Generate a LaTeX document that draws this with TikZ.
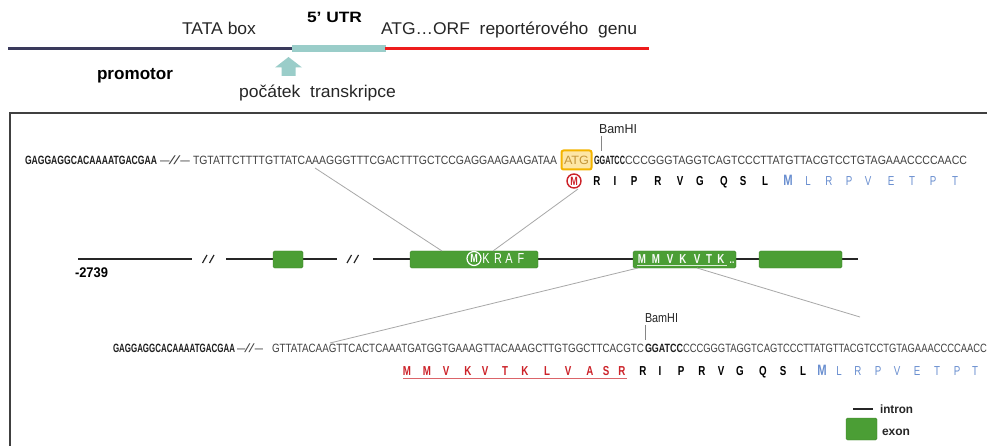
\documentclass[tikz,border=0pt]{standalone}
\usepackage{fontspec}
\setmainfont{Liberation Sans}
\newfontfamily\nar[FakeStretch=0.75]{Liberation Sans}
\usepackage{graphicx}
\definecolor{navy}{HTML}{3A3A5C}
\definecolor{teal}{HTML}{9ACDC9}
\definecolor{redl}{HTML}{EE1C1C}
\definecolor{seqc}{HTML}{404040}
\definecolor{seqd}{HTML}{1E1E1E}
\definecolor{exong}{HTML}{4B9E35}
\definecolor{conng}{HTML}{A8A8A8}
\definecolor{aablue}{HTML}{6A8FD0}
\definecolor{aared}{HTML}{CC2229}
\definecolor{boxor}{HTML}{F4B400}
\definecolor{boxfill}{HTML}{FDE6A6}
\definecolor{atgc}{HTML}{C4963A}
\definecolor{framec}{HTML}{404040}
\newcommand{\fitw}[2]{\resizebox{#1pt}{\height}{#2}}
\tikzset{
  txt/.style={inner sep=0pt, outer sep=0pt, anchor=base west},
  seqtxt/.style={txt, text=seqc, font=\fontsize{12}{12}\selectfont},
  seqdark/.style={txt, text=seqd, font=\fontsize{12}{12}\selectfont\bfseries},
  aa/.style={inner sep=0pt, outer sep=0pt, anchor=base, font=\nar\fontsize{13}{13}\selectfont\bfseries},
  exonbox/.style={fill=exong, draw=exong!85!black, line width=0.4pt, rounded corners=1.5pt, minimum height=17pt, inner sep=0pt},
  conn/.style={draw=conng, line width=0.8pt},
  intron/.style={draw=black!85, line width=1.6pt},
  brk/.style={draw=black!85, line width=1.2pt},
}
\begin{document}
\begin{tikzpicture}[x=1pt,y=-1pt]
\useasboundingbox (0,0) rectangle (987,446);
\clip (0,0) rectangle (987,446);
\fill[white] (0,0) rectangle (987,446);

% ---------- top scheme ----------
\draw[navy, line width=3.5pt] (8,48.5) -- (293,48.5);
\fill[teal] (292,45) rectangle (386,52.5);
\draw[redl, line width=3.5pt] (385,48.5) -- (649,48.5);
\fill[teal] (288.5,57) -- (302,67.5) -- (295.5,67.5) -- (295.5,76) -- (281.5,76) -- (281.5,67.5) -- (275,67.5) -- cycle;
\node[txt, font=\fontsize{17}{17}\selectfont, text=black!85] (tata) at (182,35) {\fitw{74}{TATA box}};
\node[txt, font=\fontsize{15}{15}\selectfont\bfseries] (utr) at (307,23) {\fitw{55}{5’ UTR}};
\node[txt, font=\fontsize{17}{17}\selectfont, text=black!85] (orf) at (381,35) {\fitw{256}{ATG…ORF\ \ reportérového\ \ genu}};
\node[txt, font=\fontsize{17}{17}\selectfont\bfseries] (prom) at (97,80) {\fitw{76}{promotor}};
\node[txt, font=\fontsize{17}{17}\selectfont, text=black!85] (start) at (239,98) {\fitw{157}{počátek\ \ transkripce}};

% ---------- frame ----------
\draw[framec, line width=1.3pt] (10,460) -- (10,113) -- (995,113);

% ---------- upper sequence ----------
\node[seqdark] (s1a) at (25,165) {\fitw{132}{GAGGAGGCACAAAATGACGAA}};
\node[seqtxt] (s1b) at (160,165) {\fitw{30}{–\textit{//}–}};
\node[seqtxt] (s1c) at (193,165) {\fitw{364}{TGTATTCTTTTGTTATCAAAGGGTTTCGACTTTGCTCCGAGGAAGAAGATAA}};
\node[draw=boxor, fill=boxfill, line width=2pt, rounded corners=2pt, minimum width=30pt, minimum height=19pt, inner sep=0pt] (atgbox) at (576.5,160) {};
\node[seqtxt, text=atgc] (atg) at (564,165) {\fitw{25}{ATG}};
\node[seqdark] (s1d) at (594,165) {\fitw{31}{GGATCC}};
\node[seqtxt] (s1e) at (625,165) {\fitw{342}{CCCGGGTAGGTCAGTCCCTTATGTTACGTCCTGTAGAAACCCCAACC}};
\node[txt, font=\fontsize{13}{13}\selectfont, text=black!85] (bam1) at (599,134) {\fitw{38}{BamHI}};
\coordinate (t1a) at (601,136.5);
\coordinate (t1b) at (601,151);
\draw[conng!80!black, line width=0.8pt] (t1a) -- (t1b);

% amino acids row 1
\node[circle, draw=aared, line width=1.4pt, minimum size=14pt, inner sep=0pt, text=aared, font=\nar\fontsize{12}{12}\selectfont\bfseries] (m1) at (574,181) {M};
\foreach \x/\l [count=\i] in {597/R,615/I,634/P,658/R,680/V,700/G,724/Q,743/S,765/L}
  \node[aa] (a\i) at (\x,185.5) {\l};
\node[aa, text=aablue, font=\nar\fontsize{15}{15}\selectfont\bfseries] (am) at (788,186) {M};
\foreach \x/\l [count=\i] in {808/L,829/R,849/P,868/V,891/E,912/T,933/P,955/T}
  \node[aa, text=aablue, font=\nar\fontsize{13}{13}\selectfont] (ab\i) at (\x,185.5) {\l};

% ---------- gene ----------
\draw[intron] (78,259) -- (192,259);
\draw[brk] (202.5,263) -- (207,255) (209.5,263) -- (214,255);
\draw[intron] (226,259) -- (337,259);
\draw[brk] (347,263) -- (351.5,255) (354,263) -- (358.5,255);
\draw[intron] (373,259) -- (858,259);
\node[exonbox, minimum width=30pt] (ex1) at (288,259.5) {};
\node[exonbox, minimum width=128pt] (ex2) at (474,259.5) {};
\node[exonbox, minimum width=103pt] (ex3) at (684.5,259.5) {};
\node[exonbox, minimum width=83pt] (ex4) at (800.5,259.5) {};
\node[txt, font=\fontsize{14}{14}\selectfont\bfseries] (num) at (75,277) {\fitw{33}{-2739}};

% exon 2 label
\node[circle, draw=white, line width=1.2pt, minimum size=14pt, inner sep=0pt, text=white, font=\nar\fontsize{12}{12}\selectfont\bfseries] (m2) at (474,258.5) {M};
\foreach \x/\l [count=\i] in {486/K,498/R,509/A,521/F}
  \node[aa, text=white, font=\nar\fontsize{14.5}{14.5}\selectfont] (k\i) at (\x,264) {\l};
% exon 3 label
\foreach \x/\l [count=\i] in {642/M,656/M,670/V,683/K,697/V,709/T,721/K}
  \node[aa, text=white!95!exong, font=\nar\fontsize{13}{13}\selectfont\bfseries] (e\i) at (\x,263) {\l};
\node[aa, text=white, font=\nar\fontsize{11}{11}\selectfont\bfseries] (edots) at (732,263) {..};
\coordinate (ul3a) at (637,265.5);
\coordinate (ul3b) at (727,265.5);
\draw[white!80!exong, line width=0.9pt] (ul3a) -- (ul3b);

% ---------- connectors ----------
\coordinate (c1a) at (315,168);
\coordinate (c1b) at (442,251);
\draw[conn] (c1a) -- (c1b);
\coordinate (c2a) at (578,189);
\coordinate (c2b) at (493,251);
\draw[conn] (c2a) -- (c2b);
\coordinate (c3a) at (638,268);
\coordinate (c3b) at (330,343);
\draw[conn] (c3a) -- (c3b);
\coordinate (c4a) at (697,268);
\coordinate (c4b) at (860,317);
\draw[conn] (c4a) -- (c4b);

% ---------- lower sequence ----------
\node[seqdark] (s2a) at (113,352) {\fitw{122}{GAGGAGGCACAAAATGACGAA}};
\node[seqtxt] (s2b) at (237,352) {\fitw{26}{–\textit{//}–}};
\node[seqtxt] (s2c) at (272,352) {\fitw{372}{GTTATACAAGTTCACTCAAATGATGGTGAAAGTTACAAAGCTTGTGGCTTCACGTC}};
\node[seqdark] (s2d) at (645,352) {\fitw{38}{GGATCC}};
\node[seqtxt] (s2e) at (683,352) {\fitw{304}{CCCGGGTAGGTCAGTCCCTTATGTTACGTCCTGTAGAAACCCCAACC}};
\node[txt, font=\fontsize{13}{13}\selectfont, text=black!85] (bam2) at (645,322) {\fitw{33}{BamHI}};
\coordinate (t2a) at (645,325);
\coordinate (t2b) at (645,340);
\draw[conng!80!black, line width=0.8pt] (t2a) -- (t2b);

% amino acids row 2
\foreach \x/\l [count=\i] in {407/M,427/M,446/V,468/K,485/V,505/T,525/K,547/L,568/V,590/A,606/S,622/R}
  \node[aa, text=aared] (r\i) at (\x,375) {\l};
\coordinate (ul2a) at (403,378.5);
\coordinate (ul2b) at (627,378.5);
\draw[aared!70, line width=0.9pt] (ul2a) -- (ul2b);
\foreach \x/\l [count=\i] in {643/R,660/I,681/P,702/R,721/V,740/G,763/Q,783/S,803/L}
  \node[aa] (b\i) at (\x,375) {\l};
\node[aa, text=aablue, font=\nar\fontsize{15}{15}\selectfont\bfseries] (bm) at (822,375.5) {M};
\foreach \x/\l [count=\i] in {839/L,858/R,878/P,897/V,917/E,937/T,957/P,975/T}
  \node[aa, text=aablue, font=\nar\fontsize{13}{13}\selectfont] (bb\i) at (\x,375) {\l};

% ---------- legend ----------
\coordinate (lg1) at (853,409);
\coordinate (lg2) at (873,409);
\draw[intron] (lg1) -- (lg2);
\node[txt, font=\fontsize{12}{12}\selectfont\bfseries, text=black!85] (lint) at (880,413) {\fitw{33}{intron}};
\node[exonbox, minimum width=31pt, minimum height=22pt] (lex) at (861.5,429) {};
\node[txt, font=\fontsize{12}{12}\selectfont\bfseries, text=black!85] (lexon) at (882,435) {\fitw{28}{exon}};
\end{tikzpicture}
\end{document}
